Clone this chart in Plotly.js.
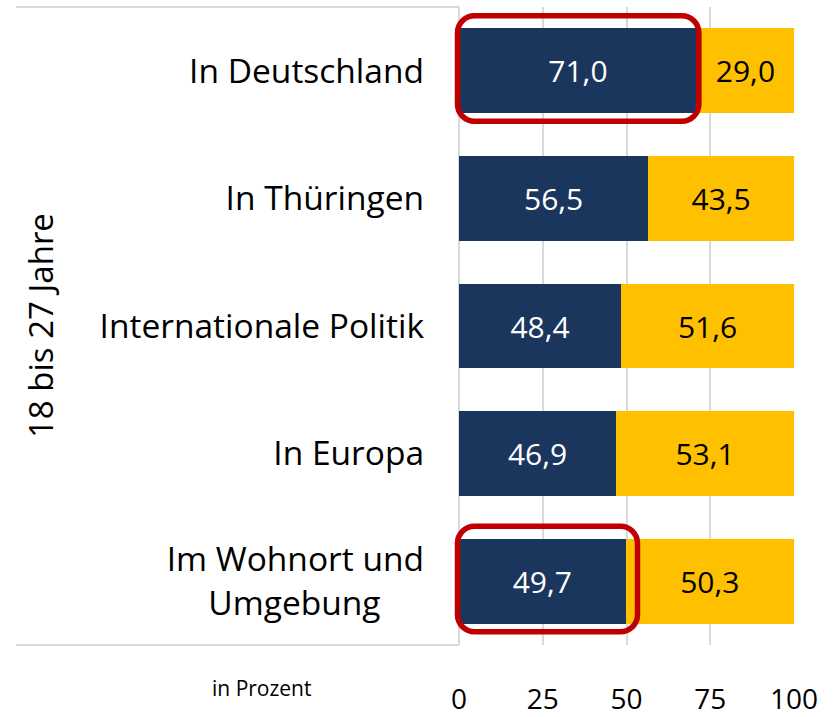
<!DOCTYPE html>
<html>
<head>
<meta charset="utf-8">
<script src="https://cdn.plot.ly/plotly-3.0.1.min.js"></script>
<style>html,body{margin:0;padding:0;background:#fff;}#chart{width:835px;height:717px;}</style>
</head>
<body>
<div id="chart"></div>
<script>
var categories = ["In Deutschland", "In Thüringen", "Internationale Politik", "In Europa", "Im Wohnort und<br>Umgebung\u00a0\u00a0\u00a0\u00a0\u00a0"];
var seriesA = [71.0, 56.5, 48.4, 46.9, 49.7];
var seriesB = [29.0, 43.5, 51.6, 53.1, 50.3];
var xTicks = [0, 25, 50, 75, 100];
var groupLabel = "18 bis 27 Jahre";
var unitLabel = "in Prozent";
var highlighted = [0, 4];

var FONT = "Open Sans, sans-serif";
var pos = categories.map(function (c, i) { return i; });

var traceA = {
  type: "bar", orientation: "h", y: pos, x: seriesA,
  marker: {color: "#1b365d"},
  texttemplate: "%{x:.1f}", textposition: "inside", insidetextanchor: "middle",
  constraintext: "none",
  textfont: {family: FONT, size: 30, color: "#ffffff"},
  hoverinfo: "none"
};
var traceB = {
  type: "bar", orientation: "h", y: pos, x: seriesB,
  marker: {color: "#ffc000"},
  texttemplate: "%{x:.1f}", textposition: "inside", insidetextanchor: "middle",
  constraintext: "none",
  textfont: {family: FONT, size: 30, color: "#000000"},
  hoverinfo: "none"
};

function roundedPath(x0, y0, x1, y1, r) {
  var k = r * 0.45;
  return "M" + (x0 + r) + "," + y0 + " L" + (x1 - r) + "," + y0 +
    " C" + (x1 - k) + "," + y0 + " " + x1 + "," + (y0 - k) + " " + x1 + "," + (y0 - r) +
    " L" + x1 + "," + (y1 + r) +
    " C" + x1 + "," + (y1 + k) + " " + (x1 - k) + "," + y1 + " " + (x1 - r) + "," + y1 +
    " L" + (x0 + r) + "," + y1 +
    " C" + (x0 + k) + "," + y1 + " " + x0 + "," + (y1 + k) + " " + x0 + "," + (y1 + r) +
    " L" + x0 + "," + (y0 - r) +
    " C" + x0 + "," + (y0 - k) + " " + (x0 + k) + "," + y0 + " " + (x0 + r) + "," + y0 + " Z";
}

var pxPerUnit = 335 / 100;
var shapes = highlighted.map(function (i) {
  var extra = (i === 0) ? 2 : 12;
  var w = seriesA[i] * pxPerUnit;
  return {
    type: "path", xref: "paper", yref: "y",
    xsizemode: "pixel", ysizemode: "pixel",
    xanchor: 0, yanchor: i,
    path: roundedPath(-1.5, 55, w + extra, -50.5, 17),
    line: {color: "#c00000", width: 5.5}, fillcolor: "rgba(0,0,0,0)"
  };
});
var leftX = (16 - 459) / 335;
shapes.push({type: "line", xref: "paper", yref: "paper", x0: leftX, x1: 0, y0: 1, y1: 1,
  line: {color: "#d9d9d9", width: 2}});
shapes.push({type: "line", xref: "paper", yref: "paper", x0: leftX, x1: 0, y0: 0, y1: 0,
  line: {color: "#d9d9d9", width: 2}});

var layout = {
  width: 835, height: 717,
  margin: {l: 459, r: 41, t: 7, b: 72},
  paper_bgcolor: "#ffffff", plot_bgcolor: "#ffffff",
  barmode: "stack", bargap: 0.334,
  showlegend: false,
  separators: ",.",
  font: {family: FONT, color: "#000000"},
  xaxis: {
    range: [0, 100], tickvals: xTicks, showgrid: true, gridcolor: "#d9d9d9", gridwidth: 2,
    zeroline: true, zerolinecolor: "#d9d9d9", zerolinewidth: 2,
    showline: false, ticks: "", tickfont: {family: FONT, size: 28, color: "#000"},
    ticklabelstandoff: 35, fixedrange: true
  },
  yaxis: {
    range: [4.5, -0.5], tickvals: pos, ticktext: categories, showgrid: false, zeroline: false,
    showline: false, ticks: "", tickfont: {family: FONT, size: 33.5, color: "#000"},
    ticklabelstandoff: 34, fixedrange: true
  },
  shapes: shapes,
  annotations: [
    {text: groupLabel, xref: "paper", yref: "paper", x: (40 - 459) / 335, y: 0.5,
      xanchor: "center", yanchor: "middle", textangle: -90, showarrow: false,
      font: {family: FONT, size: 33, color: "#000"}},
    {text: unitLabel, xref: "paper", yref: "paper", x: (261 - 459) / 335, y: -43 / 638,
      xanchor: "center", yanchor: "middle", showarrow: false,
      font: {family: FONT, size: 21, color: "#000"}}
  ]
};

Plotly.newPlot("chart", [traceA, traceB], layout, {displayModeBar: false, staticPlot: true});
</script>
</body>
</html>
